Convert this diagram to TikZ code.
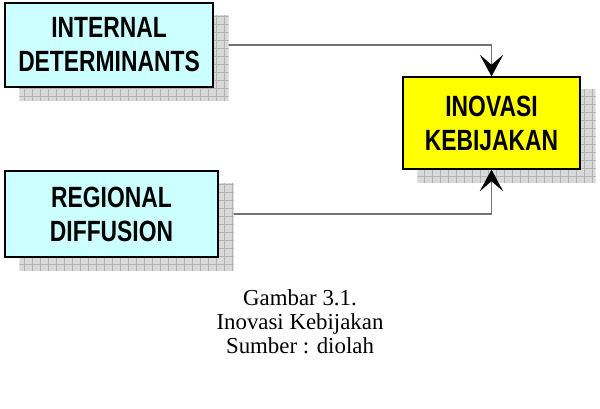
\documentclass[tikz,border=0pt]{standalone}
\usepackage{fontspec}
\setmainfont{Liberation Serif}
\newfontfamily\boxfont[FakeStretch=0.78]{Liberation Sans Bold}
\usetikzlibrary{arrows.meta}
\pgfdeclarelayer{back}
\pgfsetlayers{back,main}
\definecolor{boxcyan}{HTML}{CCFFFF}
\definecolor{boxyellow}{HTML}{FFFF00}

% grey grid shadow behind a box
\newcommand{\gridshadow}[1]{%
  \begin{scope}
    \clip ([shift={(0.45cm,-0.39cm)}]#1.north west) rectangle ([shift={(0.45cm,-0.39cm)}]#1.south east);
    \fill[gray!30] ([shift={(0.45cm,-0.39cm)}]#1.north west) rectangle ([shift={(0.45cm,-0.39cm)}]#1.south east);
    \draw[gray!60, line width=0.3pt, step=0.24cm] (0,0) grid (600,408);
  \end{scope}}

\begin{document}
\begin{tikzpicture}[x=0.03cm, y=-0.03cm,
    every text node part/.style={align=center},
    factor/.style={draw, line width=1pt, fill=boxcyan, inner sep=0pt,
      font=\boxfont\fontsize{25}{29}\selectfont},
    link/.style={draw=black!55, line width=1.2pt,
      -{Stealth[length=6.5mm, width=7mm, inset=3mm, color=black]}}]
    \useasboundingbox (0,0) rectangle (600,408);
    \node (a) [factor, minimum width=6.24cm, minimum height=2.52cm] at (109,45) {INTERNAL\\ DETERMINANTS};
    \node (b) [factor, minimum width=6.39cm, minimum height=2.58cm] at (111.5,214) {REGIONAL\\ DIFFUSION};
    \node (c) [factor, fill=boxyellow, minimum width=5.31cm, minimum height=2.76cm] at (491.5,123) {INOVASI\\ KEBIJAKAN};
    \node (cap) [font=\fontsize{19.5}{20.5}\selectfont] at (300,322) {Gambar 3.1.\\ Inovasi Kebijakan\\ Sumber : diolah};
    \begin{pgfonlayer}{back}
      \gridshadow{c}
      \draw[link] (a.east) -| (c.north);
      \draw[link] (b.east) -| (c.south);
      \gridshadow{a}
      \gridshadow{b}
    \end{pgfonlayer}
  \end{tikzpicture}
\end{document}
